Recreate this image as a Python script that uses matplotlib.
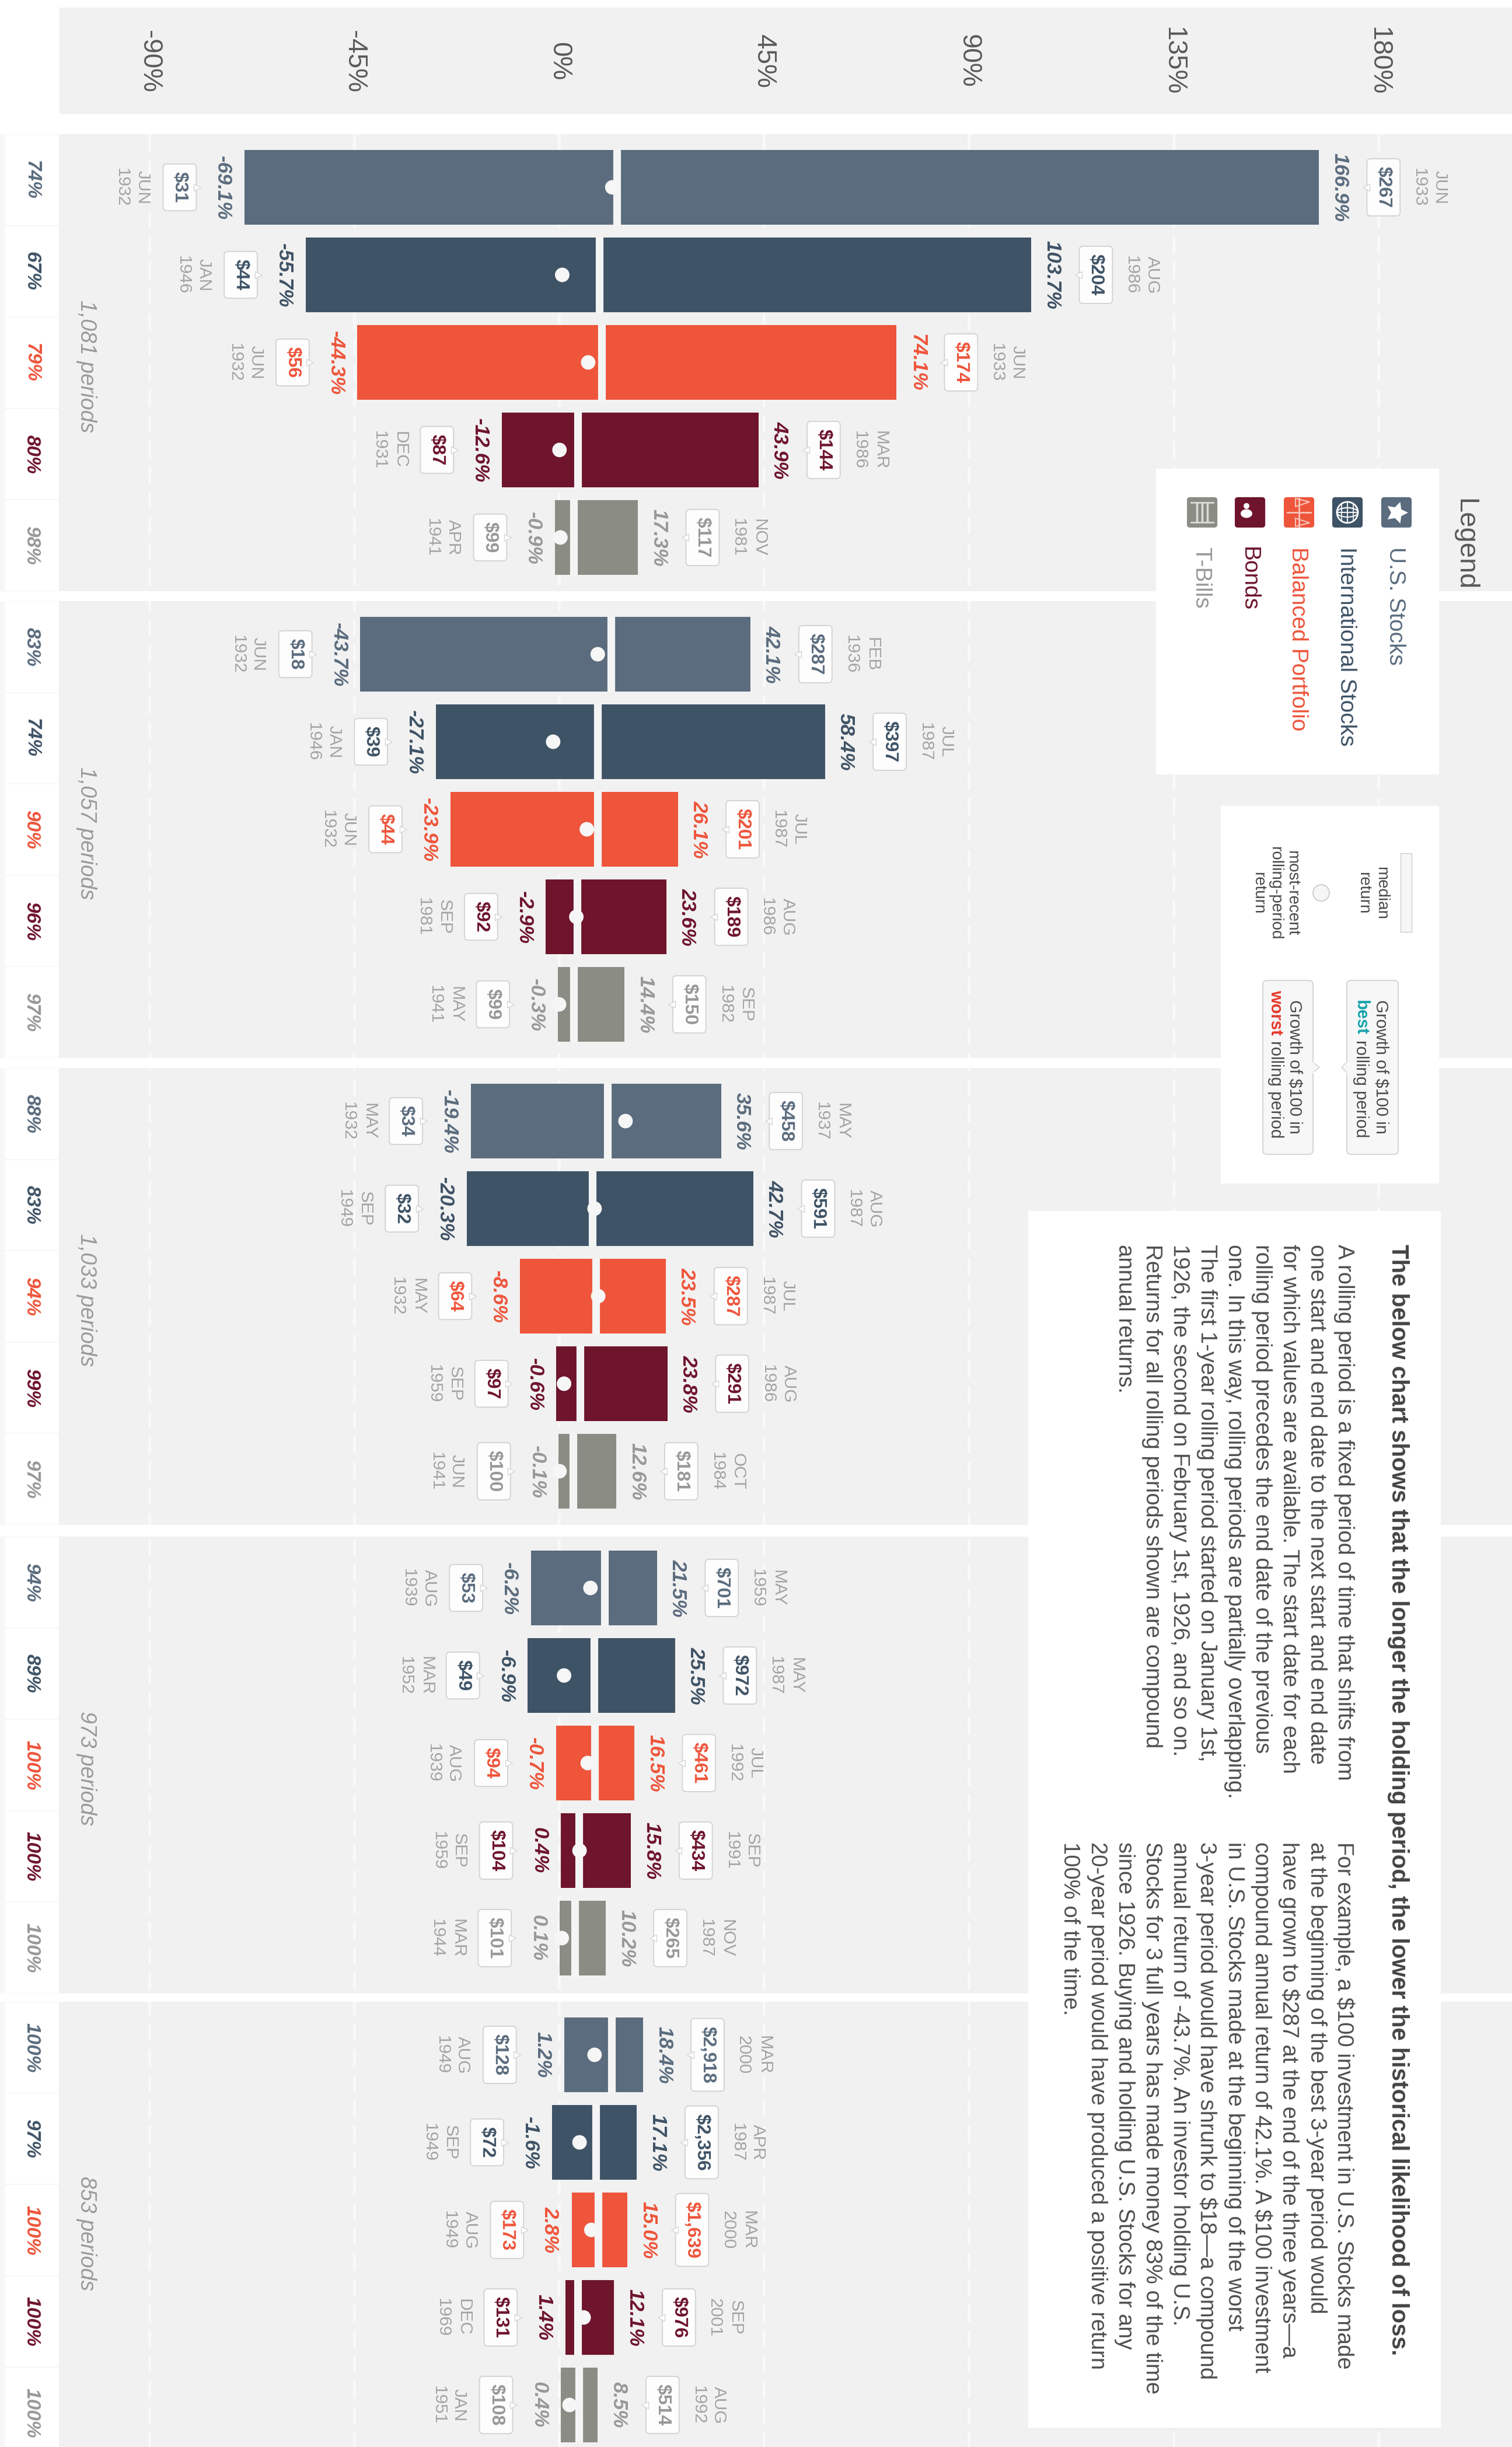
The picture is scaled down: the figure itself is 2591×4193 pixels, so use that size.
import matplotlib
matplotlib.use("Agg")
import matplotlib.pyplot as plt
from matplotlib.patches import Rectangle, FancyBboxPatch, Circle, Ellipse, Polygon

plt.rcParams['font.family'] = ['Liberation Sans', 'DejaVu Sans']

# ---------- data ----------
series_names = ["U.S. Stocks", "International Stocks", "Balanced Portfolio", "Bonds", "T-Bills"]
series_colors = ["#5b6c7e", "#3f5366", "#ee553b", "#6e142c", "#8b8c84"]
text_colors = ["#5b6c7e", "#3f5366", "#ee553b", "#6e142c", "#989898"]
periods = ["1,081 periods", "1,057 periods", "1,033 periods", "973 periods", "853 periods"]
ticks = [-90, -45, 0, 45, 90, 135, 180]

lows = [[-69.1, -55.7, -44.3, -12.6, -0.9],
        [-43.7, -27.1, -23.9, -2.9, -0.3],
        [-19.4, -20.3, -8.6, -0.6, -0.1],
        [-6.2, -6.9, -0.7, 0.4, 0.1],
        [1.2, -1.6, 2.8, 1.4, 0.4]]
highs = [[166.9, 103.7, 74.1, 43.9, 17.3],
         [42.1, 58.4, 26.1, 23.6, 14.4],
         [35.6, 42.7, 23.5, 23.8, 12.6],
         [21.5, 25.5, 16.5, 15.8, 10.2],
         [18.4, 17.1, 15.0, 12.1, 8.5]]
medians = [[12.7, 8.8, 9.4, 4.1, 3.2],
           [11.4, 8.4, 8.4, 4.0, 3.2],
           [10.7, 7.3, 8.1, 4.6, 3.1],
           [10.0, 7.7, 7.8, 4.4, 3.5],
           [11.5, 8.1, 8.6, 4.1, 4.3]]
recents = [[11.7, 0.7, 6.4, 0.1, 0.3],
           [8.5, -1.3, 6.1, 3.8, 0.0],
           [14.6, 7.8, 8.6, 1.1, 0.1],
           [6.9, 1.1, 6.3, 4.5, 0.6],
           [7.8, 4.5, 7.1, 5.4, 2.3]]
low_dollars = [[31, 44, 56, 87, 99],
               [18, 39, 44, 92, 99],
               [34, 32, 64, 97, 100],
               [53, 49, 94, 104, 101],
               [128, 72, 173, 131, 108]]
high_dollars = [[267, 204, 174, 144, 117],
                [287, 397, 201, 189, 150],
                [458, 591, 287, 291, 181],
                [701, 972, 461, 434, 265],
                [2918, 2356, 1639, 976, 514]]
low_dates = [["JUN\n1932", "JAN\n1946", "JUN\n1932", "DEC\n1931", "APR\n1941"],
             ["JUN\n1932", "JAN\n1946", "JUN\n1932", "SEP\n1981", "MAY\n1941"],
             ["MAY\n1932", "SEP\n1949", "MAY\n1932", "SEP\n1959", "JUN\n1941"],
             ["AUG\n1939", "MAR\n1952", "AUG\n1939", "SEP\n1959", "MAR\n1944"],
             ["AUG\n1949", "SEP\n1949", "AUG\n1949", "DEC\n1969", "JAN\n1951"]]
high_dates = [["JUN\n1933", "AUG\n1986", "JUN\n1933", "MAR\n1986", "NOV\n1981"],
              ["FEB\n1936", "JUL\n1987", "JUL\n1987", "AUG\n1986", "SEP\n1982"],
              ["MAY\n1937", "AUG\n1987", "JUL\n1987", "AUG\n1986", "OCT\n1984"],
              ["MAY\n1959", "MAY\n1987", "JUL\n1992", "SEP\n1991", "NOV\n1987"],
              ["MAR\n2000", "APR\n1987", "MAR\n2000", "SEP\n2001", "AUG\n1992"]]
win_pct = [[74, 67, 79, 80, 98],
           [83, 74, 90, 96, 97],
           [88, 83, 94, 99, 97],
           [94, 89, 100, 100, 100],
           [100, 97, 100, 100, 100]]

heading = "The below chart shows that the longer the holding period, the lower the historical likelihood of loss."
col1 = ["A rolling period is a fixed period of time that shifts from",
        "one start and end date to the next start and end date",
        "for which values are available. The start date for each",
        "rolling period precedes the end date of the previous",
        "one. In this way, rolling periods are partially overlapping.",
        "The first 1-year rolling period started on January 1st,",
        "1926, the second on February 1st, 1926, and so on.",
        "Returns for all rolling periods shown are compound",
        "annual returns."]
col2 = ["For example, a $100 investment in U.S. Stocks made",
        "at the beginning of the best 3-year period would",
        "have grown to $287 at the end of the three years\u2014a",
        "compound annual return of 42.1%. A $100 investment",
        "in U.S. Stocks made at the beginning of the worst",
        "3-year period would have shrunk to $18\u2014a compound",
        "annual return of -43.7%. An investor holding U.S.",
        "Stocks for 3 full years has made money 83% of the time",
        "since 1926. Buying and holding U.S. Stocks for any",
        "20-year period would have produced a positive return",
        "100% of the time."]

# ---------- geometry ----------
W, H = 2591, 4193
PX_PER_PCT = 7.8
ZERO_PX = 958
ROW_PX = 150
GROUP_PX = 800
FIRST_ROW_PX = 321
PANEL_BG = "#f1f1f1"
ROT = 270

fig = plt.figure(figsize=(W / 100, H / 100), dpi=100, facecolor="white")

bg = fig.add_axes([0, 0, 1, 1], zorder=0)
ax = fig.add_axes([0, 0, 1, 1], zorder=1)
fg = fig.add_axes([0, 0, 1, 1], zorder=2)
for a in (bg, fg):
    a.set_xlim(0, W)
    a.set_ylim(H, 0)
    a.axis("off")
ax.set_xlim(-ZERO_PX / PX_PER_PCT, (W - ZERO_PX) / PX_PER_PCT)
ax.set_ylim((H - FIRST_ROW_PX) / ROW_PX, -FIRST_ROW_PX / ROW_PX)
ax.axis("off")
ax.patch.set_alpha(0)


def dx(px):
    return px / PX_PER_PCT


# ---------- panels ----------
bg.add_patch(Rectangle((102, 13), W - 102, 182, fc=PANEL_BG, ec="none"))
CELL_H = 783 / 5
for g in range(len(periods)):
    top = 230 + GROUP_PX * g + (3 if g == 3 else 0)
    bg.add_patch(Rectangle((101, top), W - 101, 783, fc=PANEL_BG, ec="none"))
    bg.add_patch(Rectangle((0, top), 101, 783, fc="#f7f7f7", ec="none"))
    for s in range(5):
        bg.add_patch(Rectangle((8, top + CELL_H * s + 1), 93, CELL_H - 2, fc="white", ec="none"))
        bg.text(54, top + CELL_H * (s + 0.5), f"{win_pct[g][s]}%", rotation=ROT, ha="center", va="center",
                fontsize=24, fontweight="bold", fontstyle="italic", color=text_colors[s])
    bg.text(148, top + 783 / 2 + 6, periods[g], rotation=ROT, ha="center", va="center",
            fontsize=27, fontstyle="italic", color="#9a9a9a")

# gridlines and axis labels
for t in ticks:
    ax.plot([t, t], [-91 / ROW_PX, (H - FIRST_ROW_PX) / ROW_PX], color="white", lw=3.5,
            ls=(0, (6, 3)), alpha=0.6, zorder=1, solid_capstyle="butt")
    ax.text(t, (105 - FIRST_ROW_PX) / ROW_PX, f"{t}%", rotation=ROT, ha="center", va="center",
            fontsize=33, color="#5a5a5a")

# ---------- bars ----------
BAR_H = 128 / ROW_PX
GROUP_SPAN = GROUP_PX / ROW_PX
for g in range(len(periods)):
    for s in range(5):
        row = g * GROUP_SPAN + s
        lo, hi = lows[g][s], highs[g][s]
        color, tcolor = series_colors[s], text_colors[s]
        ax.barh(row, hi - lo, left=lo, height=BAR_H, color=color, edgecolor="none", zorder=3)
        ax.plot([medians[g][s]] * 2, [row - BAR_H / 2 - 0.012, row + BAR_H / 2 + 0.012], color="#f4f4f4",
                lw=9.5, solid_capstyle="butt", zorder=4)
        ax.scatter([recents[g][s]], [row], s=320, color="#f6f6f6", edgecolor="none", zorder=5)

        pct_kw = dict(rotation=ROT, ha="center", va="center", fontsize=25, fontweight="bold",
                      fontstyle="italic", color=tcolor, zorder=6)
        ax.text(lo - dx(37), row, f"{lo}%", **pct_kw)
        ax.text(hi + dx(36), row, f"{hi}%", **pct_kw)

        box = dict(boxstyle="round,pad=0.42,rounding_size=0.2", fc="#fdfdfd", ec="#d4d4d4", lw=1.4)
        val_kw = dict(rotation=ROT, ha="center", va="center", fontsize=23, fontweight="bold",
                      color=tcolor, bbox=box, zorder=6)
        ax.text(lo - dx(111), row, f"${low_dollars[g][s]:,}", **val_kw)
        ax.text(hi + dx(111), row, f"${high_dollars[g][s]:,}", **val_kw)
        ax.plot([lo - dx(81)], [row], marker=">", ms=9, mfc="#fdfdfd", mec="#d4d4d4", mew=0.9, zorder=7)
        ax.plot([hi + dx(81)], [row], marker="<", ms=9, mfc="#fdfdfd", mec="#d4d4d4", mew=0.9, zorder=7)

        date_kw = dict(rotation=ROT, ha="center", va="center", fontsize=21.5, color="#a4a4a4",
                       linespacing=1.35, multialignment="center", zorder=6)
        ax.text(lo - dx(192), row, low_dates[g][s], **date_kw)
        ax.text(hi + dx(190), row, high_dates[g][s], **date_kw)

# ---------- legend ----------
fg.add_patch(Rectangle((1981, 803), 485, 524, fc="white", ec="none"))
fg.text(2510, 933, "Legend", rotation=ROT, ha="center", va="center", fontsize=34, color="#5a5a5a")

icon_x = [2393, 2309, 2226, 2142, 2060]
ICON_Y, ICON_S = 878, 52
for ix, name, col, tcol in zip(icon_x, series_names, series_colors, text_colors):
    fg.add_patch(FancyBboxPatch((ix - ICON_S / 2 + 4, ICON_Y - ICON_S / 2 + 4), ICON_S - 8, ICON_S - 8,
                                boxstyle="round,pad=4,rounding_size=5", fc=col, ec="none"))
    fg.text(ix - 2, 937, name, rotation=ROT, ha="center", va="top", fontsize=28, color=tcol)

# star icon
fg.plot([2393], [ICON_Y], marker=(5, 1, -90), ms=28, mfc="white", mec="none")
# globe icon
cx = icon_x[1]
fg.add_patch(Circle((cx, ICON_Y), 18, fc="none", ec="white", lw=2))
fg.add_patch(Ellipse((cx, ICON_Y), 36, 16, fc="none", ec="white", lw=1.5))
fg.plot([cx - 18, cx + 18], [ICON_Y, ICON_Y], color="white", lw=1.5)
fg.plot([cx, cx], [ICON_Y - 18, ICON_Y + 18], color="white", lw=1.5)
fg.plot([cx - 10, cx - 10], [ICON_Y - 15, ICON_Y + 15], color="white", lw=1.2)
fg.plot([cx + 10, cx + 10], [ICON_Y - 15, ICON_Y + 15], color="white", lw=1.2)
# balance icon
cx = icon_x[2]
fg.plot([cx, cx], [ICON_Y - 24, ICON_Y + 24], color="#f7c4b8", lw=2)
fg.plot([cx + 20, cx - 20], [ICON_Y, ICON_Y], color="#f7c4b8", lw=2)
fg.add_patch(Polygon([(cx + 18, ICON_Y - 18), (cx - 6, ICON_Y - 24), (cx - 6, ICON_Y - 10)], fc="none", ec="#f7c4b8", lw=1.5))
fg.add_patch(Polygon([(cx + 18, ICON_Y + 18), (cx - 6, ICON_Y + 24), (cx - 6, ICON_Y + 10)], fc="none", ec="#f7c4b8", lw=1.5))
# bonds icon
cx = icon_x[3]
fg.add_patch(Ellipse((cx - 6, ICON_Y + 2), 20, 15, fc="white", ec="none"))
fg.add_patch(Circle((cx - 6, ICON_Y - 11), 5, fc="white", ec="none"))
# t-bills icon
cx = icon_x[4]
for off in (-9, 0, 9):
    fg.plot([cx + off, cx + off], [ICON_Y - 15, ICON_Y + 15], color="#dcdcd8", lw=2.5)
fg.plot([cx - 19, cx + 19], [ICON_Y - 17, ICON_Y - 17], color="#dcdcd8", lw=2)
fg.plot([cx - 19, cx + 19], [ICON_Y + 17, ICON_Y + 17], color="#dcdcd8", lw=2)

# key box
fg.add_patch(Rectangle((2092, 1381), 374, 647, fc="white", ec="none"))
fg.add_patch(Rectangle((2400, 1462), 19, 135, fc="#f6f6f6", ec="#cfcfcf", lw=1))
fg.text(2352, 1530, "median\nreturn", rotation=ROT, ha="center", va="center", fontsize=20,
        color="#4a4a4a", multialignment="center", linespacing=1.25)
fg.add_patch(Circle((2264, 1530), 14, fc="#f6f6f6", ec="#c8c8c8", lw=1.2))
fg.text(2185, 1530, "most-recent\nrolling-period\nreturn", rotation=ROT, ha="center", va="center",
        fontsize=20, color="#4a4a4a", multialignment="center", linespacing=1.15)

for x0, w, tip, base in [(2308, 88, 2299, 2308), (2164, 86, 2261, 2250)]:
    fg.add_patch(FancyBboxPatch((x0 + 4, 1684), w - 8, 290, boxstyle="round,pad=4,rounding_size=7",
                                fc="#f7f7f7", ec="#cfcfcf", lw=1.2))
    fg.add_patch(Polygon([(base, 1820), (tip, 1829), (base, 1838)], fc="#f7f7f7", ec="#cfcfcf", lw=1))
    fg.plot([base, base], [1821, 1837], color="#f7f7f7", lw=2)

small = dict(rotation=ROT, ha="center", fontsize=21, color="#4a4a4a")
fg.text(2367, 1828, "Growth of $100 in", va="center", parse_math=False, **small)
fg.text(2332, 1713, "best", va="top", rotation=ROT, ha="center", fontsize=21, fontweight="bold", color="#18a3ad")
fg.text(2332, 1782, "rolling period", va="top", **small)
fg.text(2219, 1828, "Growth of $100 in", va="center", parse_math=False, **small)
fg.text(2186, 1696, "worst", va="top", rotation=ROT, ha="center", fontsize=21, fontweight="bold", color="#e5392c")
fg.text(2186, 1783, "rolling period", va="top", **small)

# ---------- text box ----------
fg.add_patch(Rectangle((1762, 2075), 707, 2085, fc="white", ec="none"))
fg.text(2396, 2132, heading, rotation=ROT, ha="center", va="top", fontsize=29, fontweight="bold",
        color="#444444", parse_math=False)
LINE_PX = 47
for i, line in enumerate(col1):
    fg.text(2303 - LINE_PX * i, 2132, line, rotation=ROT, ha="center", va="top", fontsize=27.5,
            color="#4f4f4f", parse_math=False)
for i, line in enumerate(col2):
    fg.text(2303 - LINE_PX * i, 3156, line, rotation=ROT, ha="center", va="top", fontsize=27.5,
            color="#4f4f4f", parse_math=False)

fig.savefig("out.png", dpi=100, facecolor="white")
